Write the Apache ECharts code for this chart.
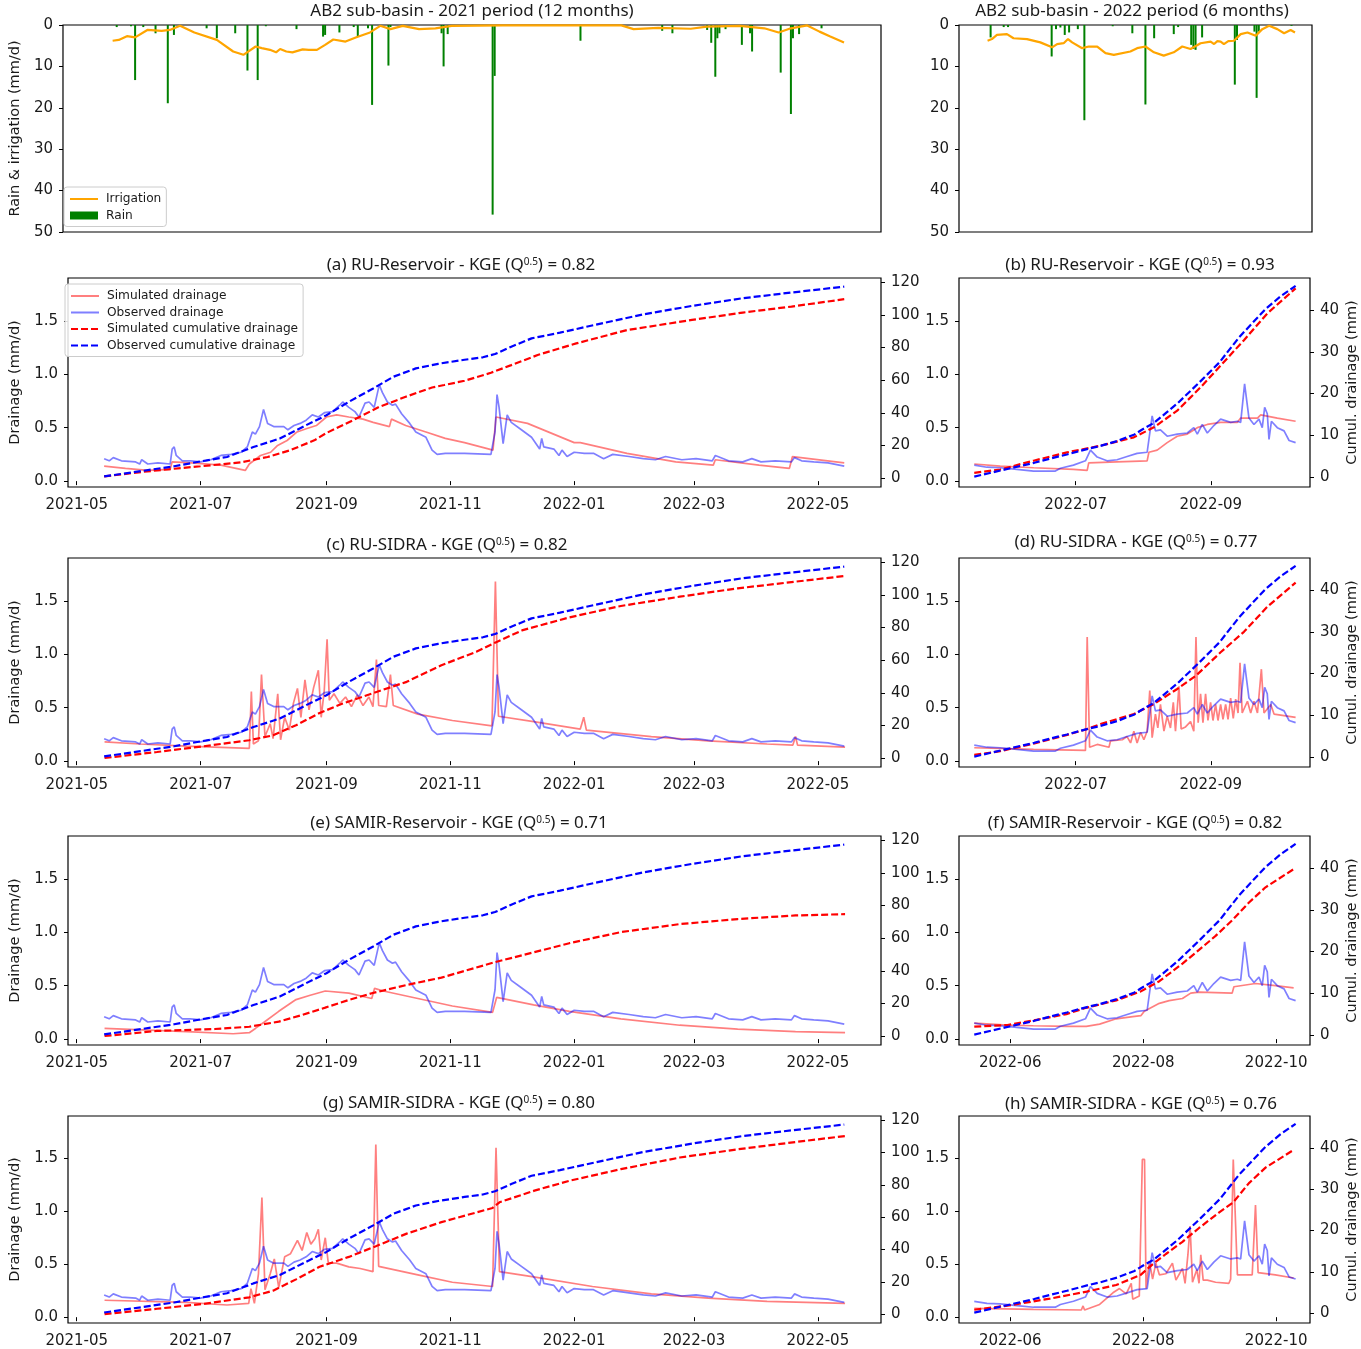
<!DOCTYPE html>
<html>
<head>
<meta charset="utf-8">
<title>AB2 sub-basin drainage</title>
<script src="https://cdn.jsdelivr.net/npm/echarts@6/dist/echarts.min.js"></script>
<style>
html, body { margin: 0; padding: 0; background: #fff; }
#main { width: 1361px; height: 1349px; }
</style>
</head>
<body>
<div id="main"></div>
<script>
var DAY = 86400000;
var start21 = Date.UTC(2021, 4, 1);
var start22 = Date.UTC(2022, 4, 1);

// shown x range of each period, days from the start date
var range21 = [-4.3, 396.1];
var range22 = [7.5, 168.5];
var range22Top = [7.5, 169.4];

var ticks21 = ['2021-05-01', '2021-07-01', '2021-09-01', '2021-11-01', '2022-01-01', '2022-03-01', '2022-05-01'];
var ticks22bd = ['2022-07-01', '2022-09-01'];
var ticks22fh = ['2022-06-01', '2022-08-01', '2022-10-01'];
var drainTicks = [0, 0.5, 1.0, 1.5];
var cumTicks21 = [0, 20, 40, 60, 80, 100, 120];
var cumTicks22 = [0, 10, 20, 30, 40];
var rainTicks = [0, 10, 20, 30, 40, 50];

// ---- 2021 period (day, value) ----
var irr21 = [[20,3.8],[23,3.6],[27,2.7],[31,3.0],[37,1.2],[44,1.4],[48,1.2],[53,0.2],[60,1.8],[71,3.6],[79,6.4],[84,7.2],[90,5.2],[93,5.6],[97,6.0],[100,6.6],[102,5.8],[105,6.4],[108,6.6],[113,5.9],[116,6.0],[120,6.0],[124,4.8],[128,3.5],[134,4.0],[139,3.0],[146,1.8],[151,0.2],[156,1.0],[162,0.2],[170,1.0],[178,0.8],[186,0.2],[211,0.1],[269,0.1],[275,1.0],[287,0.7],[303,0.9],[311,0.4],[327,0.2],[339,0.8],[346,1.8],[352,0.8],[360,0.1],[366,1.6],[371,2.7],[378,4.2]];
var rain21 = [[22,0.5],[29,0.3],[31,13.3],[35,0.5],[41,2.0],[47,18.9],[50,2.4],[66,0.8],[71,3.2],[80,2.0],[86,11.0],[91,13.3],[95,0.3],[110,1.0],[123,2.8],[124,2.4],[131,1.8],[138,0.5],[140,2.8],[145,0.8],[147,19.3],[155,9.8],[156,0.5],[181,2.0],[182,10.0],[184,2.2],[206,45.8],[207,12.3],[249,3.8],[289,1.4],[294,2.0],[311,1.2],[313,4.3],[315,12.5],[316,3.2],[317,2.0],[320,1.0],[328,4.8],[332,2.0],[333,6.4],[347,11.5],[352,21.5],[353,3.2],[356,2.2],[367,0.8]];

var obsDrain21 = [[13.5,0.21],[16,0.19],[18,0.22],[22,0.19],[29,0.18],[31,0.16],[32,0.2],[35,0.16],[40,0.17],[46,0.16],[47,0.30],[48,0.32],[49,0.24],[52,0.19],[56,0.19],[61,0.18],[66,0.2],[71,0.24],[76,0.25],[81,0.27],[84,0.32],[86.5,0.46],[88,0.44],[90,0.51],[92,0.67],[94,0.54],[97,0.51],[102,0.51],[104,0.48],[107,0.52],[110,0.54],[113,0.57],[116,0.62],[119,0.60],[122,0.64],[126,0.65],[129.5,0.71],[131,0.74],[134,0.69],[137,0.65],[139,0.60],[142,0.73],[144,0.74],[146.5,0.69],[149,0.90],[150.5,0.83],[153,0.74],[155.5,0.71],[157,0.72],[160,0.63],[164,0.54],[167,0.46],[172,0.41],[175,0.29],[177.5,0.25],[181.5,0.26],[191,0.26],[204,0.25],[206,0.46],[207,0.81],[208,0.69],[210,0.35],[212,0.62],[214,0.55],[219,0.48],[224,0.41],[228,0.30],[229,0.40],[230,0.32],[235,0.30],[237.5,0.24],[239,0.29],[241.5,0.23],[245,0.27],[250,0.26],[254.5,0.26],[259.5,0.21],[264,0.25],[272,0.23],[279,0.21],[285,0.20],[290,0.23],[298,0.20],[305,0.21],[313,0.19],[314.5,0.24],[321,0.19],[328,0.18],[332.5,0.21],[337,0.18],[344,0.19],[352,0.18],[353.5,0.22],[357,0.19],[363,0.18],[370,0.17],[378,0.14]];
var obsCum21 = [[13.5,1.0],[32,4.3],[48,7.2],[61,10.2],[74,12.9],[87,19.0],[100,24.2],[113,32.4],[123,38.5],[134,46.7],[146,54.9],[156,62.1],[167,67.2],[178,70.0],[191,72.5],[200,74.0],[206,76.0],[214,80.5],[224,85.6],[238,89.1],[255,93.8],[279,100.3],[303,105.5],[328,110.2],[352,113.7],[378,117.3]];

var simDrainA = [[13.5,0.14],[24,0.12],[35,0.10],[46,0.11],[47,0.18],[56.5,0.17],[71,0.15],[83,0.10],[85,0.16],[90.5,0.24],[95.5,0.27],[98.7,0.33],[103.6,0.38],[108.5,0.46],[113,0.49],[118,0.52],[123,0.60],[128,0.62],[134,0.60],[141,0.58],[146,0.55],[154,0.51],[155,0.58],[162,0.52],[172,0.46],[181.5,0.40],[191,0.36],[205,0.29],[206.5,0.60],[222,0.54],[245,0.36],[248,0.36],[271,0.26],[295,0.18],[313.5,0.15],[314.5,0.20],[336,0.15],[351,0.12],[352.5,0.23],[378,0.17]];
var simCumA = [[13.5,1.0],[32,3.7],[48,5.7],[61,7.2],[81,9.6],[94,12.9],[105,17.0],[117,23.1],[123,27.6],[136,35.4],[149,43.6],[162,49.8],[175,55.5],[181,57.0],[191,59.6],[204,64.5],[214,69.2],[227,75.4],[246,82.5],[271,90.7],[303,96.9],[328,101.4],[352,105.1],[378,109.6]];

var simDrainC = [[13.7,0.18],[31,0.16],[54,0.14],[85,0.12],[86,0.65],[87,0.16],[89.5,0.19],[91,0.81],[92.7,0.23],[95.3,0.35],[96.7,0.21],[99,0.63],[100.4,0.2],[102.4,0.41],[104.7,0.29],[106.7,0.54],[108.7,0.68],[110.4,0.41],[112.4,0.76],[114.4,0.48],[116.7,0.69],[119,0.85],[120.4,0.41],[121.9,0.66],[123.3,1.14],[124.4,0.57],[126.7,0.63],[129.6,0.54],[132.4,0.6],[135.3,0.51],[138.2,0.62],[141,0.52],[143.9,0.6],[145.9,0.51],[147.6,0.95],[148.7,0.52],[152.5,0.51],[154.5,0.81],[155.9,0.52],[168,0.44],[185,0.38],[204.5,0.33],[206.2,1.68],[207.7,0.42],[225,0.37],[248,0.30],[249.7,0.41],[251,0.29],[283,0.23],[311,0.19],[340,0.16],[352.7,0.15],[354,0.23],[355,0.15],[378.4,0.13]];
var simCumC = [[13.7,0],[39.5,3.7],[62.4,7.2],[85,10.9],[96.7,13.9],[108,20.1],[119.6,27.6],[131,33.4],[145.3,39.5],[162.5,46.7],[179.6,56.9],[196.8,65.1],[206,70.7],[219.7,78.4],[242.6,86.2],[268,93.2],[297,98.9],[325.5,104],[354,108.1],[378.4,111.6]];

var simDrainE = [[13.7,0.10],[54,0.07],[77,0.05],[85,0.06],[88,0.10],[92.4,0.16],[99.5,0.26],[108,0.37],[115,0.41],[122.4,0.45],[134,0.43],[145.3,0.38],[146.7,0.475],[151,0.45],[168,0.38],[185,0.31],[204.8,0.25],[206.8,0.39],[225,0.32],[242.6,0.26],[268,0.19],[297,0.13],[325.5,0.094],[354,0.07],[378.4,0.06]];
var simCumE = [[13.7,0],[39.5,3.1],[68,4.3],[85,5.7],[99.5,8.8],[111,12.9],[122.4,17.4],[134,22.1],[145.3,26.2],[162.5,31.3],[179.6,35.8],[206,45.3],[225.4,51.4],[242.6,56.9],[268,63.7],[297,68.6],[325.5,71.7],[354,73.9],[378.4,74.7]];

var simDrainG = [[13.7,0.16],[54,0.14],[74,0.115],[84.7,0.13],[85.8,0.27],[87.5,0.13],[89.5,0.41],[91.2,1.13],[92.7,0.26],[95.3,0.41],[97.3,0.55],[99.5,0.28],[102.4,0.57],[105.3,0.6],[108.7,0.725],[111,0.63],[113.3,0.8],[115.3,0.69],[117.3,0.74],[119,0.83],[120.4,0.54],[122.4,0.75],[123.9,0.51],[128,0.51],[134,0.475],[139.6,0.46],[145.9,0.43],[147.3,1.63],[148.7,0.48],[168,0.40],[185,0.33],[204.8,0.29],[206.5,1.6],[208.2,0.43],[225,0.38],[254,0.29],[283,0.22],[311,0.18],[340,0.15],[378.4,0.13]];
var simCumG = [[13.7,0],[39.5,3.3],[62.4,6.3],[85,10.4],[96.7,14.5],[108,21.5],[119.6,29.3],[134,35.4],[147.3,42],[162.5,49.8],[179.6,56.9],[204.8,65.7],[208.2,69.2],[225.4,76.4],[242.6,82.5],[268,89.7],[297,96.9],[325.5,102],[354,106.5],[378.4,110.2]];

// ---- 2022 period (day, value) ----
var irr22 = [[20.6,3.8],[22.6,3.4],[24.9,2.4],[29.5,2.2],[32.5,3.2],[38.7,3.4],[44.8,4.2],[50.2,5.4],[52.5,4.6],[55.5,4.4],[57.5,3.4],[59.4,4.2],[64,5.6],[67,5.2],[70.9,5.2],[74.7,6.8],[78.5,7.2],[86.1,6.4],[89.2,5.6],[93,5.2],[96.9,6.6],[101.4,7.4],[106,6.6],[109.9,5.2],[113.7,5.8],[118.3,4.4],[122.9,4.0],[124.5,4.6],[126,3.9],[127.5,4.0],[129,4.6],[131,3.9],[133.6,3.8],[136.7,2.2],[139.8,1.8],[143.6,2.6],[146.6,1.0],[149.7,0.2],[153.5,1.0],[156.6,2.0],[159.6,1.2],[161.6,1.8]];
var rain22 = [[22,3.0],[28,0.5],[30,0.5],[50,7.6],[52,1.0],[54,0.6],[56,2.4],[58,1.8],[62,1.0],[65,23.0],[78,0.3],[87,2.0],[93,19.2],[97,3.2],[106,2.2],[108,0.5],[114,4.8],[115,5.8],[116,6.0],[119,3.0],[134,14.4],[135,3.6],[143,1.6],[144,17.6],[145,1.6],[160,0.2]];

var obsDrain22 = [[14.5,0.15],[20.3,0.13],[26.4,0.125],[34,0.11],[41.7,0.094],[51.7,0.094],[54,0.12],[60,0.15],[65.5,0.19],[67.8,0.29],[70.9,0.225],[75.4,0.19],[80,0.2],[84.6,0.23],[89.2,0.26],[93.8,0.27],[96.1,0.61],[97.6,0.47],[99.9,0.48],[103,0.42],[107.6,0.44],[112.2,0.45],[115.2,0.5],[116.8,0.44],[119.1,0.53],[121.4,0.45],[124.4,0.52],[127.5,0.58],[132.1,0.55],[135.2,0.56],[136.7,0.55],[138.5,0.91],[140.5,0.59],[142.8,0.53],[145.1,0.58],[146.6,0.5],[147.7,0.69],[148.9,0.63],[149.7,0.39],[150.8,0.56],[153.5,0.5],[156.6,0.47],[158.9,0.38],[161.9,0.36]];
var obsCum22 = [[14.5,0.1],[27,1.6],[42,3.4],[50,4.5],[57,5.4],[67,6.8],[72,7.4],[80,8.6],[88,10.2],[91,11.2],[97,13.0],[103,15.6],[108,17.8],[118,22.8],[127,27.5],[136,33.5],[148,40.2],[155,43.3],[161.9,45.8]];

var simDrainB = [[14.5,0.16],[26.4,0.14],[41.7,0.125],[60,0.11],[66.3,0.10],[67,0.17],[80,0.18],[93.8,0.19],[94.6,0.27],[98.4,0.29],[103,0.36],[107.6,0.42],[112.2,0.44],[116.8,0.50],[121.4,0.53],[127.5,0.55],[135.2,0.55],[136.7,0.59],[144.4,0.59],[145.9,0.62],[153.5,0.59],[161.9,0.56]];
var simCumB = [[14.5,1.0],[26.4,1.8],[41.7,3.9],[57.1,5.9],[72.4,7.5],[87.7,9.5],[96.9,11.9],[107.6,15.9],[118.3,21.5],[127.5,26.7],[138.2,32.8],[148.9,39.2],[161.9,45.2]];

var simDrainD = [[14.5,0.125],[41.7,0.11],[65.5,0.10],[66.3,1.16],[67.4,0.13],[70.9,0.156],[76.3,0.13],[77,0.19],[82.4,0.2],[84.6,0.23],[86.2,0.17],[87.7,0.28],[89.2,0.17],[90.8,0.27],[92.3,0.2],[93.8,0.28],[95,0.66],[96.1,0.22],[97.6,0.44],[98.7,0.31],[99.9,0.53],[101.5,0.28],[103,0.42],[104.5,0.31],[105.8,0.55],[106.8,0.28],[108.4,0.70],[109.4,0.30],[111.4,0.32],[113.7,0.37],[115.2,0.28],[116.2,1.16],[117.2,0.36],[118.3,0.63],[119.4,0.36],[120.6,0.63],[121.7,0.38],[122.9,0.55],[124,0.38],[125.2,0.53],[126.3,0.38],[127.5,0.53],[128.6,0.39],[129.8,0.53],[130.9,0.39],[132.1,0.59],[133.3,0.40],[134.4,0.58],[135.5,0.45],[136.4,0.92],[137.4,0.45],[139.8,0.56],[141.3,0.45],[142.8,0.56],[144.4,0.45],[146.2,0.86],[147.4,0.45],[150.5,0.53],[152,0.44],[161.9,0.41]];
var simCumD = [[14.5,0.5],[26.4,1.4],[41.7,3.2],[57.1,5.3],[66.3,6.7],[72.4,7.9],[87.7,10.3],[96.9,12.7],[107.6,16.3],[116.2,19.5],[127.5,25.1],[138.2,30],[148.9,36],[161.9,41.8]];

var simDrainF = [[14.5,0.15],[29.7,0.13],[41.6,0.125],[56.8,0.12],[65.9,0.12],[72,0.14],[79.6,0.19],[87.2,0.21],[91,0.22],[92.5,0.26],[99.4,0.335],[103.9,0.36],[110,0.38],[113.8,0.43],[117.6,0.44],[132.8,0.43],[133.6,0.49],[143.5,0.52],[152.6,0.50],[161,0.48]];
var simCumF = [[14.5,2.0],[29.7,2.4],[41.6,3.5],[56.8,5.0],[65.1,6.4],[79.6,8.3],[90.7,10.4],[99.4,12.9],[110,17.1],[117.6,20.4],[125.2,23.75],[132.8,27.5],[140.4,31.7],[148.1,35.4],[161,39.75]];

var simDrainH = [[14.5,0.084],[41.6,0.074],[63.6,0.068],[64.4,0.106],[65.1,0.068],[72,0.12],[78.1,0.23],[81.1,0.27],[84.2,0.22],[86.5,0.32],[87.2,0.17],[90.2,0.2],[91.6,1.49],[92.6,1.49],[93.3,0.27],[94.8,0.53],[96.3,0.36],[97.8,0.51],[99.4,0.40],[102.4,0.41],[105.4,0.51],[107,0.35],[110,0.46],[111.2,0.32],[112.5,0.59],[113.5,0.86],[114.6,0.33],[116.6,0.45],[117.6,0.32],[118.4,0.59],[119.5,0.35],[121.4,0.35],[125.2,0.33],[131.3,0.32],[132.1,0.36],[133.3,1.49],[135.2,0.40],[142,0.40],[143.5,1.06],[144.7,0.42],[152.6,0.40],[161,0.37]];
var simCumH = [[14.5,0.8],[29.7,1.8],[49.2,3.5],[66.1,5.2],[79.6,6.8],[90.7,9.2],[96.3,11.8],[102.4,14.3],[110,17.25],[117.6,20.6],[126.7,24.3],[133.3,26.8],[140.4,31.4],[148.1,35.2],[161,39.5]];

var panelTitles = ['(a) RU-Reservoir - KGE (Q{s|0.5}) = 0.82', '(b) RU-Reservoir - KGE (Q{s|0.5}) = 0.93',
  '(c) RU-SIDRA - KGE (Q{s|0.5}) = 0.82', '(d) RU-SIDRA - KGE (Q{s|0.5}) = 0.77',
  '(e) SAMIR-Reservoir - KGE (Q{s|0.5}) = 0.71', '(f) SAMIR-Reservoir - KGE (Q{s|0.5}) = 0.82',
  '(g) SAMIR-SIDRA - KGE (Q{s|0.5}) = 0.80', '(h) SAMIR-SIDRA - KGE (Q{s|0.5}) = 0.76'];
var panelSim = [simDrainA, simDrainB, simDrainC, simDrainD, simDrainE, simDrainF, simDrainG, simDrainH];
var panelSimCum = [simCumA, simCumB, simCumC, simCumD, simCumE, simCumF, simCumG, simCumH];

// layout
var colLeft = [59, 959], colWidth = [822, 351];
var rowTop = [278, 558, 836, 1116], rowHeight = 209;
var titleCenter = [[456, 264], [1135, 264], [442, 544], [1131, 541], [454, 822], [1130, 822], [454, 1102], [1136, 1103]];

var FONT = 'DejaVu Sans';
var TFONT = 'Noto Sans';
var ink = '#1a1a1a';

function pts(start, arr) {
	var out = [];
	for (var i = 0; i < arr.length; i++) {
		out.push([start + arr[i][0] * DAY, arr[i][1]]);
	}
	return out;
}
function dates(list) {
	return list.map(function(s) { return Date.parse(s + 'T00:00:00Z'); });
}
function ym(v) {
	var d = new Date(v);
	return d.getUTCFullYear() + '-' + ('0' + (d.getUTCMonth() + 1)).slice(-2);
}

var labelStyle = { fontFamily: FONT, fontSize: 15, color: ink };
var tickStyle = { show: true, length: 4, lineStyle: { color: '#000', width: 1 } };
var gridStyle = { show: true, borderColor: '#000', borderWidth: 1.2, backgroundColor: 'transparent' };

var grids = [], xAxes = [], yAxes = [], series = [], titles = [];

function addTitle(text, cx, cy) {
	titles.push({
		text: text, left: cx, top: cy - 12, textAlign: 'center',
		textStyle: { fontFamily: TFONT, fontSize: 17, fontWeight: 'normal', color: ink,
			rich: { s: { fontFamily: TFONT, fontSize: 10, verticalAlign: 'top', color: ink } } }
	});
}

// x axes are plain value axes holding timestamps, ticks placed on month starts
function timeX(gi, start, range, ticks) {
	var ax = {
		type: 'value', gridIndex: gi, min: start + range[0] * DAY, max: start + range[1] * DAY,
		axisLine: { show: false }, splitLine: { show: false }
	};
	if (ticks) {
		var tv = dates(ticks);
		ax.axisTick = { show: true, length: 4, lineStyle: { color: '#000' }, customValues: tv };
		ax.axisLabel = Object.assign({ margin: 11, customValues: tv, formatter: ym }, labelStyle);
	} else {
		ax.axisTick = { show: false };
		ax.axisLabel = { show: false };
	}
	return ax;
}

function valueY(gi, min, max, ticks, fmt, extra) {
	var ax = {
		type: 'value', gridIndex: gi, min: min, max: max,
		axisLine: { show: false }, splitLine: { show: false },
		axisTick: Object.assign({ customValues: ticks }, tickStyle),
		axisLabel: Object.assign({ margin: 10, customValues: ticks, formatter: fmt }, labelStyle),
		nameTextStyle: { fontFamily: FONT, fontSize: 14.5, color: ink }
	};
	return Object.assign(ax, extra || {});
}

// rain and irrigation panels
var topCfg = [
	{ left: 59, width: 822, start: start21, range: range21, rain: rain21, irr: irr21, title: 'AB2 sub-basin - 2021 period (12 months)', cx: 467 },
	{ left: 959, width: 353, start: start22, range: range22Top, rain: rain22, irr: irr22, title: 'AB2 sub-basin - 2022 period (6 months)', cx: 1127 }
];
topCfg.forEach(function(c, i) {
	grids.push(Object.assign({ left: c.left, top: 25, width: c.width, height: 207 }, gridStyle));
	xAxes.push(timeX(i, c.start, c.range, null));
	var extra = { inverse: true };
	if (i === 0) {
		extra.name = 'Rain & irrigation (mm/d)';
		extra.nameLocation = 'middle';
		extra.nameGap = 38;
		extra.nameRotate = 90;
	}
	yAxes.push(valueY(i, 0, 50, rainTicks, function(v) { return String(v); }, extra));
	series.push({
		name: 'Rain', type: 'bar', xAxisIndex: i, yAxisIndex: i, barWidth: 2,
		itemStyle: { color: '#008000' }, data: pts(c.start, c.rain)
	});
	series.push({
		name: 'Irrigation', type: 'line', xAxisIndex: i, yAxisIndex: i, symbol: 'none',
		lineStyle: { color: '#ffa500', width: 2.2 }, itemStyle: { color: '#ffa500' }, data: pts(c.start, c.irr)
	});
	addTitle(c.title, c.cx, 10);
});

// drainage panels
for (var k = 0; k < 8; k++) {
	var col = k % 2, row = Math.floor(k / 2);
	var gi = 2 + k;
	var is21 = col === 0;
	var start = is21 ? start21 : start22;
	grids.push(Object.assign({ left: colLeft[col], top: rowTop[row], width: colWidth[col], height: rowHeight }, gridStyle));
	var xt = is21 ? ticks21 : (row < 2 ? ticks22bd : ticks22fh);
	xAxes.push(timeX(gi, start, is21 ? range21 : range22, xt));

	var leftExtra = {};
	if (is21) {
		leftExtra = { name: 'Drainage (mm/d)', nameLocation: 'middle', nameGap: 45, nameRotate: 90 };
	}
	yAxes.push(valueY(gi, -0.055, 1.9, drainTicks, function(v) { return v.toFixed(1); }, leftExtra));
	var rightExtra = { position: 'right' };
	if (!is21) {
		rightExtra.name = 'Cumul. drainage (mm)';
		rightExtra.nameLocation = 'middle';
		rightExtra.nameGap = 35;
		rightExtra.nameRotate = 90;
	}
	yAxes.push(valueY(gi, is21 ? -5.5 : -2.4, is21 ? 122.6 : 47.7, is21 ? cumTicks21 : cumTicks22,
		function(v) { return String(v); }, rightExtra));

	var yl = 2 + 2 * k, yr = 3 + 2 * k;
	series.push({
		name: 'Simulated drainage', type: 'line', xAxisIndex: gi, yAxisIndex: yl, symbol: 'none',
		lineStyle: { color: 'rgba(255,0,0,0.5)', width: 1.7 }, itemStyle: { color: 'rgba(255,0,0,0.5)' },
		data: pts(start, panelSim[k])
	});
	series.push({
		name: 'Observed drainage', type: 'line', xAxisIndex: gi, yAxisIndex: yl, symbol: 'none',
		lineStyle: { color: 'rgba(0,0,255,0.5)', width: 1.7 }, itemStyle: { color: 'rgba(0,0,255,0.5)' },
		data: pts(start, is21 ? obsDrain21 : obsDrain22)
	});
	series.push({
		name: 'Simulated cumulative drainage', type: 'line', xAxisIndex: gi, yAxisIndex: yr, symbol: 'none',
		lineStyle: { color: '#ff0000', width: 2.2, type: [7, 3] }, itemStyle: { color: '#ff0000' },
		data: pts(start, panelSimCum[k])
	});
	series.push({
		name: 'Observed cumulative drainage', type: 'line', xAxisIndex: gi, yAxisIndex: yr, symbol: 'none',
		lineStyle: { color: '#0000ff', width: 2.2, type: [7, 3] }, itemStyle: { color: '#0000ff' },
		data: pts(start, is21 ? obsCum21 : obsCum22)
	});
	addTitle(panelTitles[k], titleCenter[k][0], titleCenter[k][1]);
}

var legendBox = {
	orient: 'vertical', backgroundColor: 'rgba(255,255,255,0.85)', borderColor: '#cccccc', borderWidth: 1,
	borderRadius: 3, itemWidth: 28, itemHeight: 8, itemGap: 4.5, padding: [6, 5, 5, 5],
	textStyle: { fontFamily: FONT, fontSize: 12.2, color: ink, padding: [0, 0, 0, 3] }, selectedMode: false
};
// hide the round marker ECharts adds to line icons
var noDot = { opacity: 0 };

var option = {
	animation: false,
	backgroundColor: '#ffffff',
	title: titles,
	grid: grids,
	xAxis: xAxes,
	yAxis: yAxes,
	legend: [
		Object.assign({ left: 64, top: 187, data: [{ name: 'Irrigation', itemStyle: noDot }, { name: 'Rain', icon: 'rect' }] }, legendBox),
		Object.assign({ left: 65, top: 284, data: [
			{ name: 'Simulated drainage', itemStyle: noDot }, { name: 'Observed drainage', itemStyle: noDot },
			{ name: 'Simulated cumulative drainage', itemStyle: noDot }, { name: 'Observed cumulative drainage', itemStyle: noDot }] }, legendBox)
	],
	series: series
};

var chart = echarts.init(document.getElementById('main'));
chart.setOption(option);
</script>
</body>
</html>
